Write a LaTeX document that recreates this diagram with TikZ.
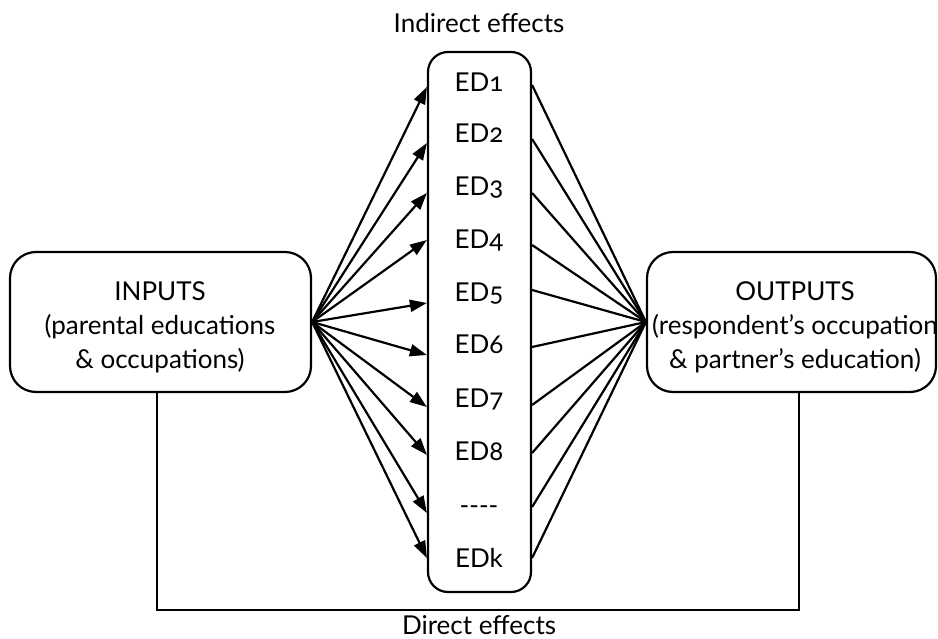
\documentclass[tikz,border=0pt]{standalone}
\usepackage{fontspec}
\setmainfont{Lato}[Numbers=OldStyle]
\usetikzlibrary{arrows.meta}
\begin{document}
\begin{tikzpicture}[x=1pt,y=-1pt,
  lw/.style={line width=2.2pt},
  txt/.style={font=\fontsize{26}{34}\selectfont},
  bigbox/.style={draw,lw,rounded corners=26pt,inner sep=0pt},
  boxtext/.style={align=center,txt,inner sep=0pt},
  edlab/.style={txt,inner sep=0pt,anchor=base},
  arr/.style={lw,-{Triangle[length=17pt,width=12pt]}},
  ln/.style={lw},
  captext/.style={txt,inner sep=0pt,anchor=base}]
\useasboundingbox (0,0) rectangle (938,639);
\node[bigbox,minimum width=301pt,minimum height=140pt] (inputs) at (160.5,322) {};
\node[boxtext] (intext) at (160,327) {INPUTS\\(parental educations\\\& occupations)};
\node[bigbox,minimum width=289pt,minimum height=140pt] (outputs) at (791.5,322) {};
\node[boxtext] (outtext) at (795,327) {OUTPUTS\\(respondent’s occupation\\\& partner’s education)};
\node[draw,lw,rounded corners=20pt,minimum width=103pt,minimum height=540pt,inner sep=0pt] (mid) at (479.5,322) {};
\foreach \i/\t/\ly/\ry/\by in {1/ED1/87/85/92,2/ED2/143/139/143,3/ED3/193/193/196,4/ED4/240/245/249,5/ED5/303/290/302,6/ED6/355/347/354,7/ED7/407/405/407,8/ED8/455/453/460,9/{-{}-{}-{}-}/513/507/514,10/EDk/558/558/567}{
  \node[edlab] (ed\i) at (479,\by) {\t};
  \coordinate (l\i) at (mid.west |- 0,\ly);
  \coordinate (r\i) at (mid.east |- 0,\ry);
  \draw[arr] (inputs.east) -- (l\i);
  \draw[ln] (r\i) -- (outputs.west);
}
\coordinate (dl) at (157,610);
\coordinate (dr) at (799,610);
\draw[ln] (inputs.south -| dl) -- (dl) -- (dr) -- (outputs.south -| dr);
\node[captext] (ind) at (479,33) {Indirect effects};
\node[captext] (dir) at (479,634) {Direct effects};
\end{tikzpicture}
\end{document}
